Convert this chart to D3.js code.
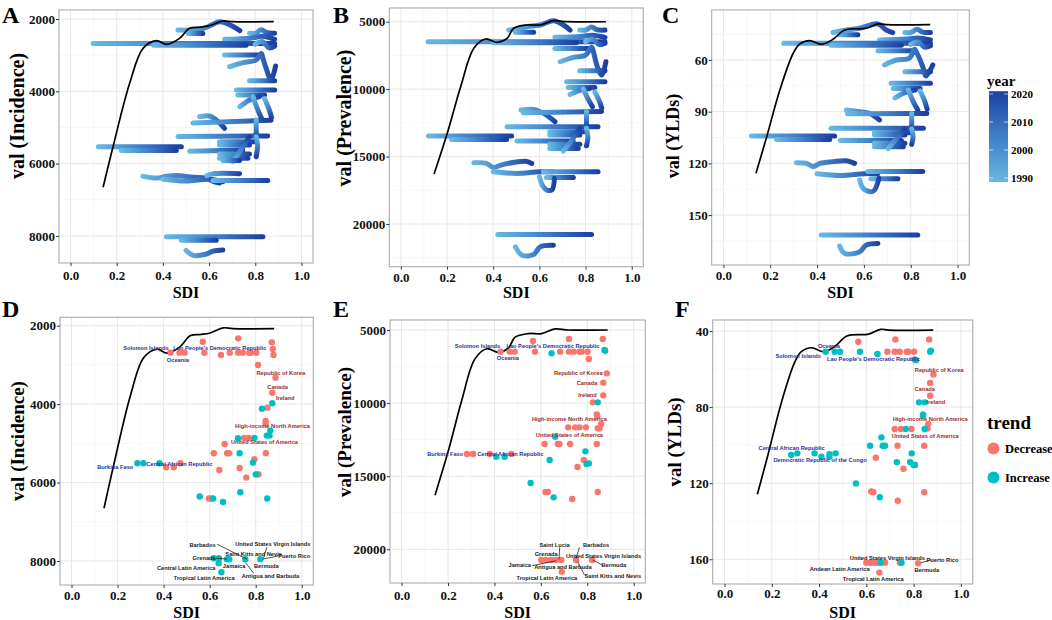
<!DOCTYPE html>
<html><head><meta charset="utf-8">
<script src="https://cdn.jsdelivr.net/npm/d3@7"></script>
<style>body{margin:0;background:#fff}svg{display:block}</style>
</head><body>
<svg id="c" width="1052" height="620"></svg>
<script>
// ---------------- DATA ----------------
const xDomain = [-0.05, 1.05];
const xTicks = [0, 0.2, 0.4, 0.6, 0.8, 1.0];
const xMinor = [0.1, 0.3, 0.5, 0.7, 0.9];
const yearTicks = [1990, 2000, 2010, 2020];
const yearRange = [1990, 2021];

const ticksInc = [2000, 4000, 6000, 8000];
const minorInc = [3000, 5000, 7000];
const ticksPrev = [5000, 10000, 15000, 20000];
const minorPrevTop = [7500, 12500, 17500, 22500];
const minorPrev = [7500, 12500, 17500];
const ticksYldTop = [60, 90, 120, 150];
const minorYldTop = [45, 75, 105, 135, 165];
const ticksYld = [40, 80, 120, 160];
const minorYld = [60, 100, 140];

// expected value curves [SDI, value]
const curveInc = [[.141,6655],[.184,5532],[.256,3779],[.314,2811],[.372,2600],[.415,2700],[.472,2535],[.515,2258],[.56,2225],[.602,2185],[.66,2055],[.70,2075],[.88,2075]];
const curvePrev = [[.144,16298],[.201,13280],[.259,9822],[.316,6975],[.367,6283],[.417,6530],[.46,6231],[.489,5490],[.546,5245],[.603,5245],[.661,4926],[.718,5000],[.888,5000]];
const curveYld = [[.139,125.8],[.185,104.5],[.241,77.4],[.298,56.1],[.326,50.7],[.369,48.8],[.419,50.9],[.468,48.0],[.518,42.6],[.61,41.6],[.66,39.1],[.695,39.5],[.883,39.5]];

// 1990 -> 2021 trajectories [SDI, value]
const tracksInc = [
 [[.465,2307],[.559,2290],[.60,2200],[.646,2074],[.689,2160],[.733,2323]],
 [[.509,2400],[.573,2400]],
 [[.775,2396],[.80,2396],[.826,2300],[.85,2380],[.884,2396]],
 [[.667,2561],[.78,2530],[.83,2480],[.884,2561]],
 [[.098,2679],[.884,2679]],
 [[.36,2725],[.76,2725]],
 [[.80,2700],[.83,2620],[.86,2800],[.884,2750]],
 [[.667,2996],[.811,2996]],
 [[.689,3319],[.747,3208],[.804,3134],[.826,2950],[.833,3087],[.847,3364],[.868,3687],[.888,3300]],
 [[.775,3706],[.884,3706]],
 [[.718,3964],[.884,3964]],
 [[.725,4102],[.84,4102]],
 [[.733,4425],[.775,4240],[.818,4149]],
 [[.79,4150],[.81,4500],[.83,4794]],
 [[.84,4200],[.86,4500],[.87,4720]],
 [[.559,4702],[.602,4683],[.631,4794],[.667,5024]],
 [[.53,4880],[.869,4800]],
 [[.804,4794],[.804,5255]],
 [[.465,5250],[.854,5236]],
 [[.645,5394],[.797,5394]],
 [[.645,5485],[.775,5485]],
 [[.516,5660],[.746,5624]],
 [[.645,5734],[.775,5734]],
 [[.645,5853],[.768,5853]],
 [[.703,5947],[.74,5600],[.775,5255]],
 [[.804,5255],[.81,5500],[.804,5808]],
 [[.12,5534],[.48,5534]],
 [[.22,5636],[.458,5636]],
 [[.66,5915],[.732,5915]],
 [[.314,6352],[.372,6400],[.415,6352],[.458,6330],[.53,6380],[.588,6400],[.62,6500],[.646,6538]],
 [[.40,6430],[.50,6480],[.60,6430],[.66,6500]],
 [[.59,6330],[.62,6278],[.732,6278]],
 [[.617,6464],[.854,6464]],
 [[.415,8026],[.833,8026]],
 [[.48,8119],[.631,8119]],
 [[.50,8398],[.53,8538],[.588,8500],[.617,8420],[.66,8390]]
];
const tracksPrev = [
 [[.467,5618],[.517,5495],[.546,5371],[.603,5247],[.661,4926],[.704,5247],[.733,5618]],
 [[.496,5790],[.575,5790]],
 [[.775,5618],[.80,5618],[.826,5400],[.85,5600],[.884,5618]],
 [[.667,6162],[.78,6100],[.83,6000],[.884,6162]],
 [[.118,6484],[.884,6484]],
 [[.40,6560],[.76,6560]],
 [[.80,6500],[.83,6300],[.86,6700],[.884,6600]],
 [[.667,6978],[.811,6978]],
 [[.69,7968],[.747,7646],[.80,7473],[.826,6900],[.835,7300],[.85,8300],[.87,8957],[.888,7968]],
 [[.775,8635],[.884,8635]],
 [[.718,9451],[.884,9451]],
 [[.725,9870],[.84,9870]],
 [[.733,10400],[.775,10100],[.818,9950]],
 [[.79,10000],[.81,10700],[.83,11300]],
 [[.84,10200],[.86,10900],[.87,11400]],
 [[.52,11553],[.575,11504],[.618,11800],[.668,12420]],
 [[.53,11750],[.869,11650]],
 [[.804,11650],[.804,12800]],
 [[.46,12790],[.854,12790]],
 [[.645,13160],[.797,13160]],
 [[.645,13400],[.775,13400]],
 [[.503,13853],[.746,13853]],
 [[.645,14080],[.775,14080]],
 [[.645,14400],[.768,14400]],
 [[.703,14600],[.74,13800],[.775,12900]],
 [[.804,12900],[.81,13600],[.804,14200]],
 [[.12,13482],[.48,13482]],
 [[.22,13730],[.458,13730]],
 [[.316,15461],[.37,15500],[.40,15800],[.44,15600],[.50,15400],[.54,15350],[.567,15510]],
 [[.40,16130],[.50,16250],[.60,16130],[.66,16130]],
 [[.63,16550],[.747,16550]],
 [[.617,16128],[.854,16128]],
 [[.60,16500],[.615,17200],[.635,17500],[.655,17450],[.665,16600]],
 [[.42,20778],[.826,20778]],
 [[.496,21693],[.525,22311],[.575,22261],[.603,21693],[.661,21570]]
];
const tracksYld = [
 [[.468,44.1],[.525,42.6],[.582,41.6],[.66,39.1],[.695,42.6],[.723,44.1]],
 [[.496,45.3],[.574,45.3]],
 [[.775,44.1],[.80,44.1],[.826,42.2],[.85,43.8],[.884,44.1]],
 [[.667,48.4],[.78,47.9],[.83,47.2],[.884,48.4]],
 [[.258,50.3],[.884,50.3]],
 [[.46,51.5],[.76,51.5]],
 [[.80,51],[.83,49.6],[.86,52.6],[.884,51.8]],
 [[.66,54.6],[.81,54.6]],
 [[.688,62.9],[.738,60],[.794,59],[.816,53.8],[.83,57.1],[.851,63.9],[.865,69.3],[.894,62.9]],
 [[.775,66.8],[.884,66.8]],
 [[.716,73.5],[.884,73.5]],
 [[.725,76.5],[.84,76.5]],
 [[.733,82],[.775,79],[.818,77.5]],
 [[.79,77.5],[.81,84],[.83,89]],
 [[.84,78],[.86,84],[.87,88.5]],
 [[.525,89],[.582,90],[.624,91],[.667,94.8]],
 [[.53,91.2],[.869,91]],
 [[.804,91],[.804,100]],
 [[.46,99.7],[.854,99.7]],
 [[.645,102.2],[.797,102.2]],
 [[.645,103.5],[.775,103.5]],
 [[.50,106.8],[.76,106.8]],
 [[.645,108.4],[.775,108.4]],
 [[.645,110.3],[.768,110.3]],
 [[.703,111.5],[.74,105.5],[.775,100]],
 [[.804,100],[.81,104.5],[.804,109]],
 [[.12,104.1],[.475,104.1]],
 [[.227,106.1],[.454,106.1]],
 [[.312,119.6],[.355,120],[.383,121.9],[.411,120],[.468,119],[.525,118.5],[.56,120]],
 [[.40,126],[.50,127],[.60,126],[.66,126]],
 [[.63,129],[.745,129]],
 [[.617,124.8],[.851,124.8]],
 [[.582,129.7],[.596,134.5],[.631,136.5],[.645,135.5],[.664,128.7]],
 [[.418,161.6],[.83,161.6]],
 [[.496,168],[.518,172.3],[.582,171.3],[.61,167.4],[.66,166.5]]
];

// 2021 points by trend [SDI, value]
const incDecrease = [[.43,2688],[.469,2688],[.491,2688],[.57,2408],[.577,2688],[.649,2747],[.687,2688],[.724,2323],[.724,2688],[.743,2688],[.772,2688],[.779,2688],[.802,2688],[.81,3002],[.87,2425],[.874,2595],[.877,2747],[.886,3325],[.872,3707],[.851,4090],[.843,4429],[.843,4488],[.75,4862],[.769,4862],[.665,5015],[.618,5253],[.676,5253],[.684,5253],[.844,5253],[.794,5406],[.73,5627],[.642,5678],[.759,5873],[.806,5790],[.812,5790],[.411,5610],[.444,5610],[.473,5508],[.596,6408],[.605,6408]];
const incIncrease = [[.872,3979],[.827,4115],[.863,4675],[.848,4803],[.86,4803],[.723,4870],[.794,4862],[.73,5253],[.788,5491],[.80,5790],[.286,5508],[.312,5508],[.382,5508],[.557,6357],[.733,6247],[.85,6408],[.658,6494],[.615,6408],[.618,7928],[.64,7928],[.675,7953],[.685,7953],[.755,7953],[.639,8055],[.651,8285],[.82,7953]];
const prevDecrease = [[.426,6482],[.466,6482],[.487,6482],[.566,5752],[.575,6482],[.683,6482],[.721,5616],[.721,6482],[.741,6482],[.766,6482],[.776,6482],[.801,6482],[.807,6984],[.867,5616],[.884,7964],[.869,8602],[.869,9469],[.824,9948],[.841,10768],[.843,10880],[.86,11430],[.853,11726],[.845,11726],[.718,11658],[.748,11658],[.766,11658],[.794,11658],[.616,12798],[.673,12798],[.68,12798],[.726,12798],[.841,12798],[.785,13892],[.758,14371],[.62,16081],[.63,16081],[.735,16560],[.845,16081],[.282,13482],[.308,13482],[.38,13482],[.473,13482],[.602,20732],[.623,20732],[.645,20732],[.666,20732],[.688,20732],[.752,20732],[.821,20732],[.69,21530]];
const prevIncrease = [[.646,6596],[.874,6368],[.877,6420],[.845,9948],[.662,12296],[.792,13299],[.797,14166],[.807,14120],[.638,13892],[.556,15465],[.655,16446],[.408,13664],[.444,13664]];
const yldDecrease = [[.566,45.6],[.723,44.4],[.72,50.9],[.741,50.9],[.771,50.9],[.777,50.9],[.802,50.9],[.689,50.9],[.866,44.4],[.884,62.8],[.87,67.3],[.87,74],[.862,88.9],[.859,91.2],[.72,91.5],[.746,91.5],[.791,91.5],[.732,100.3],[.845,100.3],[.64,106.6],[.757,112.4],[.621,124.4],[.63,124.7],[.733,129.2],[.845,124.8],[.6,161.8],[.616,161.8],[.633,161.8],[.645,161.8],[.68,161.8],[.742,161.8],[.819,162.1],[.655,167]];
const yldIncrease = [[.428,50.9],[.466,50.9],[.489,50.9],[.573,50.9],[.647,52.1],[.805,54.9],[.81,55.3],[.873,50.3],[.87,50.9],[.823,77.5],[.847,77.5],[.84,83.8],[.84,84.6],[.847,91.5],[.767,91.5],[.664,95.9],[.616,100.3],[.669,100.3],[.679,100.3],[.792,104.3],[.729,108.9],[.785,108.9],[.8,110.4],[.806,110.4],[.556,120.1],[.657,127.4],[.282,105.2],[.308,104.3],[.381,104.3],[.41,106.1],[.444,106.1],[.444,104.8],[.47,104.3],[.661,161.8],[.749,161.8]];

// labels [text, SDI, value, group]
const labelsInc = [
 ["Solomon Islands",.323,2561,"b"],["Lao People's Democratic Republic",.644,2561,"b"],["Oceania",.462,2875,"b"],
 ["Burkina Faso",.19,5610,"b"],["Central African Republic",.468,5516,"b"],
 ["Republic of Korea",.909,3197,"r"],["Canada",.895,3571,"r"],["Ireland",.928,3851,"r"],
 ["High-income North America",.873,4556,"r"],["United States of America",.838,4964,"r"],
 ["United States Virgin Islands",.874,7571,"k"],["Barbados",.569,7588,"k"],["Saint Kitts and Nevis",.791,7809,"k"],
 ["Puerto Rico",.967,7869,"k"],["Grenada",.576,7928,"k"],["Jamaica",.706,8123,"k"],["Bermuda",.846,8123,"k"],
 ["Central Latin America",.498,8183,"k"],["Antigua and Barbuda",.864,8378,"k"],["Tropical Latin America",.576,8446,"k"]
];
const leadersInc = [[.632,7571,.762,7953],[.755,8038,.791,8310],[.629,7928,.675,7953],[.899,7869,.83,7953],[.848,7650,.834,7928]];
const labelsPrev = [
 ["Solomon Islands",.327,6094,"b"],["Lao People's Democratic Republic",.652,6094,"b"],["Oceania",.458,6938,"b"],
 ["Burkina Faso",.188,13482,"b"],["Central African Republic",.468,13504,"b"],
 ["Republic of Korea",.761,7964,"r"],["Canada",.799,8602,"r"],["Ireland",.801,9469,"r"],
 ["High-income North America",.723,11110,"r"],["United States of America",.723,12205,"r"],
 ["Saint Lucia",.659,19706,"k"],["Barbados",.838,19706,"k"],["Grenada",.623,20322,"k"],
 ["United States Virgin Islands",.87,20436,"k"],["Jamaica",.509,21074,"k"],["Antigua and Barbuda",.695,21188,"k"],
 ["Bermuda",.914,21074,"k"],["Tropical Latin America",.626,21963,"k"],["Saint Kitts and Nevis",.91,21826,"k"]
];
const leadersPrev = [[.681,19865,.678,20686],[.766,19865,.752,20618],[.563,21120,.666,20778],[.864,21074,.824,20732],[.788,21758,.759,20846]];
const labelsYld = [
 ["Oceania",.442,47.9,"b"],["Solomon Islands",.312,53.1,"b"],["Lao People's Democratic Republic",.63,54.9,"b"],
 ["Central African Republic",.284,101.3,"b"],["Democratic Republic of the Congo",.404,108,"b"],
 ["Republic of Korea",.908,60.5,"r"],["Canada",.847,70.7,"r"],["Ireland",.894,77.3,"r"],
 ["High-income North America",.87,86.4,"r"],["United States of America",.849,95,"r"],
 ["United States Virgin Islands",.689,159.1,"k"],["Puerto Rico",.922,160.4,"k"],["Andean Latin America",.487,165.1,"k"],
 ["Bermuda",.856,165.6,"k"],["Tropical Latin America",.629,170.3,"k"]
];
const leadersYld = [[.873,160.4,.831,161.8]];

// ---------------- STYLE / LAYOUT ----------------
const SERIF = "'Liberation Serif','Times New Roman',serif";
const SANS = "'Liberation Sans',Arial,sans-serif";
const lowC = "#66B7E3", midC = "#3F80C9", highC = "#1C3FA2";
const decC = "#F8766D", incC = "#00BFC4";
const labelColor = {b:"#2B2F9A", r:"#9A2A2A", k:"#1a1a1a"};

const panels = [
 {letter:"A", lx:2, ly:23, frame:[59,10,313,263], yDomain:[1751,8749], ticks:ticksInc, minor:minorInc,
  title:"val (Incidence)", tx:17, ty:116, ts:20, xlabY:280, sdiY:298, curve:curveInc, tracks:tracksInc},
 {letter:"B", lx:333, ly:23, frame:[389.3,8,643.3,266.7], yDomain:[3984,23166], ticks:ticksPrev, minor:minorPrevTop,
  title:"val (Prevalence)", tx:344, ty:118, ts:20, xlabY:282, sdiY:298, curve:curvePrev, tracks:tracksPrev},
 {letter:"C", lx:662, ly:23, frame:[711.7,10,969.3,265], yDomain:[31,179], ticks:ticksYldTop, minor:minorYldTop,
  title:"val (YLDs)", tx:673, ty:136, ts:18, xlabY:280, sdiY:298, curve:curveYld, tracks:tracksYld},
 {letter:"D", lx:2, ly:317, frame:[60,317.3,313.3,585], yDomain:[1786,8612], ticks:ticksInc, minor:minorInc,
  title:"val (Incidence)", tx:17, ty:441, ts:19, xlabY:600, sdiY:618, curve:curveInc,
  dec:incDecrease, inc:incIncrease, labels:labelsInc, leaders:leadersInc},
 {letter:"E", lx:333, ly:317, frame:[390,320,645.3,583], yDomain:[4316,22305], ticks:ticksPrev, minor:minorPrev,
  title:"val (Prevalence)", tx:344, ty:432, ts:19, xlabY:600, sdiY:618, curve:curvePrev,
  dec:prevDecrease, inc:prevIncrease, labels:labelsPrev, leaders:leadersPrev},
 {letter:"F", lx:675, ly:317, frame:[712.7,320,972.7,584], yDomain:[34.2,173], ticks:ticksYld, minor:minorYld,
  title:"val (YLDs)", tx:674, ty:442, ts:19, xlabY:598, sdiY:618, curve:curveYld,
  dec:yldDecrease, inc:yldIncrease, labels:labelsYld, leaders:leadersYld}
];

// ---------------- DRAW ----------------
const svg = d3.select("#c");
svg.append("rect").attr("width",1052).attr("height",620).attr("fill","#fff");
const defs = svg.append("defs");

panels.forEach(p => {
  const [x0,y0,x1,y1] = p.frame;
  const x = d3.scaleLinear().domain(xDomain).range([x0,x1]);
  const y = d3.scaleLinear().domain(p.yDomain).range([y0,y1]);
  const g = svg.append("g");

  // grid
  const grid = g.append("g");
  grid.selectAll(".vm").data(xMinor).join("line")
    .attr("x1",d=>x(d)).attr("x2",d=>x(d)).attr("y1",y0).attr("y2",y1)
    .attr("stroke","#F2F2F2").attr("stroke-width",0.6);
  grid.selectAll(".hm").data(p.minor).join("line")
    .attr("y1",d=>y(d)).attr("y2",d=>y(d)).attr("x1",x0).attr("x2",x1)
    .attr("stroke","#F2F2F2").attr("stroke-width",0.6);
  grid.selectAll(".vM").data(xTicks).join("line")
    .attr("x1",d=>x(d)).attr("x2",d=>x(d)).attr("y1",y0).attr("y2",y1)
    .attr("stroke","#E8E8E8").attr("stroke-width",1);
  grid.selectAll(".hM").data(p.ticks).join("line")
    .attr("y1",d=>y(d)).attr("y2",d=>y(d)).attr("x1",x0).attr("x2",x1)
    .attr("stroke","#E8E8E8").attr("stroke-width",1);

  const line = d3.line().x(d=>x(d[0])).y(d=>y(d[1])).curve(d3.curveCatmullRom.alpha(0.5));

  if (p.tracks) {
    p.tracks.forEach((t,i) => {
      const id = "grad" + p.letter + i;
      const a = t[0], b = t[t.length-1];
      const lg = defs.append("linearGradient").attr("id",id).attr("gradientUnits","userSpaceOnUse")
        .attr("x1",x(a[0])).attr("y1",y(a[1])).attr("x2",x(b[0])).attr("y2",y(b[1]));
      lg.append("stop").attr("offset",0).attr("stop-color",lowC);
      lg.append("stop").attr("offset",0.5).attr("stop-color",midC);
      lg.append("stop").attr("offset",1).attr("stop-color",highC);
      g.append("path").attr("d",line(t)).attr("fill","none")
        .attr("stroke",`url(#${id})`).attr("stroke-width",5)
        .attr("stroke-linecap","round").attr("stroke-linejoin","round");
    });
  }

  // expected curve
  g.append("path").attr("d",line(p.curve)).attr("fill","none")
    .attr("stroke","#000").attr("stroke-width",1.7);

  if (p.dec) {
    g.append("g").selectAll("circle").data(p.dec).join("circle")
      .attr("cx",d=>x(d[0])).attr("cy",d=>y(d[1])).attr("r",3.2).attr("fill",decC);
    g.append("g").selectAll("circle").data(p.inc).join("circle")
      .attr("cx",d=>x(d[0])).attr("cy",d=>y(d[1])).attr("r",3.2).attr("fill",incC);
    g.append("g").selectAll("line").data(p.leaders).join("line")
      .attr("x1",d=>x(d[0])).attr("y1",d=>y(d[1])).attr("x2",d=>x(d[2])).attr("y2",d=>y(d[3]))
      .attr("stroke","#222").attr("stroke-width",0.8);
    g.append("g").selectAll("text").data(p.labels).join("text")
      .attr("x",d=>x(d[1])).attr("y",d=>y(d[2])).attr("text-anchor","middle")
      .attr("dominant-baseline","central")
      .attr("font-family",SANS).attr("font-weight","bold").attr("font-size",5.7)
      .attr("fill",d=>labelColor[d[3]]).text(d=>d[0]);
  }

  // frame
  g.append("rect").attr("x",x0).attr("y",y0).attr("width",x1-x0).attr("height",y1-y0)
    .attr("fill","none").attr("stroke","#ABABAB").attr("stroke-width",1.1);

  // axes
  const ya = g.append("g").attr("transform",`translate(${x0},0)`)
    .call(d3.axisLeft(y).tickValues(p.ticks).tickSize(3).tickPadding(1).tickFormat(d3.format("d")));
  const xa = g.append("g").attr("transform",`translate(0,${y1})`)
    .call(d3.axisBottom(x).tickValues(xTicks).tickSize(3).tickFormat(d3.format(".1f")));
  [ya, xa].forEach(a => {
    a.select(".domain").remove();
    a.selectAll("line").attr("stroke","#333");
    a.selectAll("text").attr("font-family",SERIF).attr("font-weight","bold")
      .attr("font-size",13).attr("fill","#111");
  });
  xa.selectAll("text").attr("y", p.xlabY - y1).attr("dy", 0);

  // titles
  g.append("text").attr("x",(x0+x1)/2).attr("y",p.sdiY).attr("text-anchor","middle")
    .attr("font-family",SERIF).attr("font-weight","bold").attr("font-size",16).text("SDI");
  g.append("text").attr("transform",`translate(${p.tx},${p.ty}) rotate(-90)`)
    .attr("text-anchor","middle").attr("dominant-baseline","central")
    .attr("font-family",SERIF).attr("font-weight","bold").attr("font-size",p.ts).text(p.title);
  g.append("text").attr("x",p.lx).attr("y",p.ly)
    .attr("font-family",SERIF).attr("font-weight","bold").attr("font-size",24).text(p.letter);
});

// ---------- year colourbar legend ----------
const yl = svg.append("g");
const yearY = d3.scaleLinear().domain([1990,2020]).range([178,94]);
const cb = defs.append("linearGradient").attr("id","yearbar").attr("x1",0).attr("y1",1).attr("x2",0).attr("y2",0);
cb.append("stop").attr("offset",0).attr("stop-color",lowC);
cb.append("stop").attr("offset",0.5).attr("stop-color",midC);
cb.append("stop").attr("offset",1).attr("stop-color",highC);
yl.append("text").attr("x",987).attr("y",86).attr("font-family",SERIF).attr("font-weight","bold")
  .attr("font-size",15).text("year");
yl.append("rect").attr("x",989).attr("y",yearY(yearRange[1])).attr("width",19)
  .attr("height",182 - yearY(yearRange[1])).attr("fill","url(#yearbar)");
yearTicks.forEach(t => {
  yl.append("line").attr("x1",989).attr("x2",993).attr("y1",yearY(t)).attr("y2",yearY(t)).attr("stroke","#fff").attr("stroke-width",0.8).attr("opacity",0.8);
  yl.append("line").attr("x1",1004).attr("x2",1008).attr("y1",yearY(t)).attr("y2",yearY(t)).attr("stroke","#fff").attr("stroke-width",0.8).attr("opacity",0.8);
  yl.append("text").attr("x",1011).attr("y",yearY(t)).attr("dominant-baseline","central")
    .attr("font-family",SERIF).attr("font-weight","bold").attr("font-size",11).text(t);
});

// ---------- trend legend ----------
const tl = svg.append("g");
tl.append("text").attr("x",987).attr("y",429).attr("font-family",SERIF).attr("font-weight","bold")
  .attr("font-size",19).text("trend");
[["Decrease",decC,448.5],["Increase",incC,477.5]].forEach(([name,col,cy]) => {
  tl.append("circle").attr("cx",993.5).attr("cy",cy).attr("r",6).attr("fill",col);
  tl.append("text").attr("x",1005).attr("y",cy).attr("dominant-baseline","central")
    .attr("font-family",SERIF).attr("font-weight","bold").attr("font-size",12.5).text(name);
});
</script>
</body></html>
